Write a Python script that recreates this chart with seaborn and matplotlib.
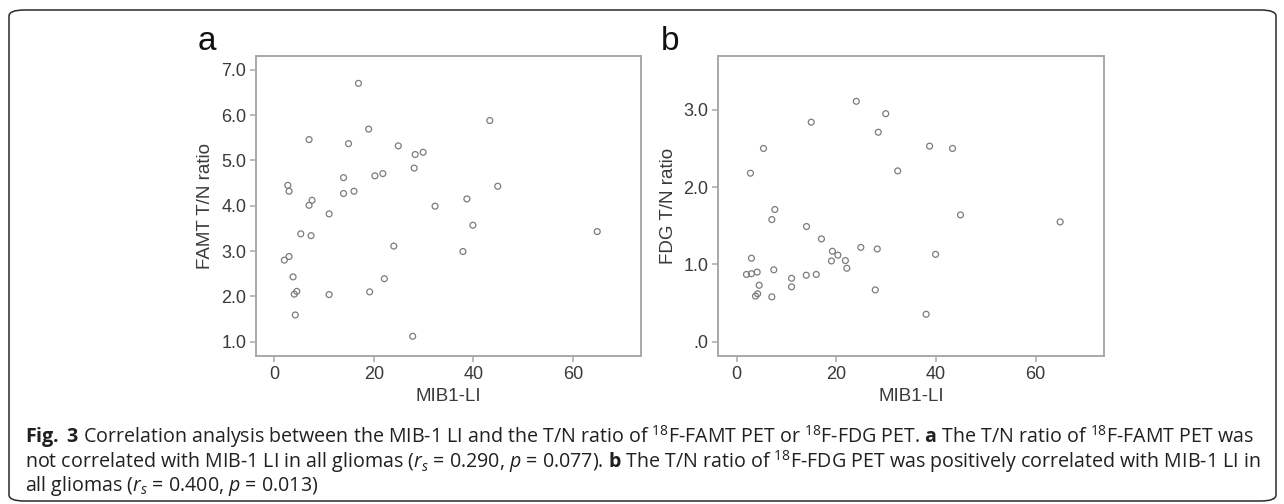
import matplotlib
matplotlib.use("Agg")
import matplotlib.pyplot as plt
import seaborn as sns
import pandas as pd
from matplotlib.patches import FancyBboxPatch

# panel a: MIB1-LI vs FAMT T/N ratio
famt_mib = [16.9, 43.3, 18.95, 6.97, 14.9, 24.9, 29.9, 28.3, 28.1, 13.9,
            20.2, 21.8, 2.7, 2.95, 44.9, 13.9, 16.0, 7.57, 6.97, 38.7,
            32.3, 11.0, 39.9, 5.3, 7.37, 24.0, 37.9, 2.95, 2.0, 3.75,
            22.1, 4.5, 4.0, 11.0, 19.15, 4.2, 27.8, 64.9]
famt_tn = [6.70, 5.88, 5.69, 5.46, 5.37, 5.32, 5.18, 5.13, 4.83, 4.62,
           4.66, 4.71, 4.45, 4.32, 4.43, 4.27, 4.32, 4.12, 4.01, 4.15,
           3.99, 3.82, 3.57, 3.38, 3.34, 3.11, 2.99, 2.88, 2.80, 2.43,
           2.39, 2.11, 2.05, 2.04, 2.10, 1.59, 1.12, 3.43]

# panel b: MIB1-LI vs FDG T/N ratio
fdg_mib = [24.0, 29.9, 14.95, 28.4, 5.37, 38.7, 43.3, 2.75, 32.3, 7.65,
           7.04, 44.9, 14.0, 17.0, 19.2, 20.3, 24.9, 28.2, 39.9, 2.95,
           19.0, 21.8, 22.1, 7.44, 1.95, 2.95, 4.1, 15.96, 13.95, 11.0,
           11.0, 4.5, 4.2, 3.76, 7.04, 27.8, 38.0, 64.9]
fdg_tn = [3.11, 2.95, 2.84, 2.71, 2.50, 2.53, 2.50, 2.18, 2.21, 1.71,
          1.58, 1.64, 1.49, 1.33, 1.17, 1.12, 1.22, 1.20, 1.13, 1.08,
          1.045, 1.05, 0.95, 0.93, 0.87, 0.88, 0.90, 0.87, 0.86, 0.82,
          0.71, 0.73, 0.62, 0.59, 0.58, 0.67, 0.355, 1.55]

x_ticks = [0, 20, 40, 60]
a_yticks = [1, 2, 3, 4, 5, 6, 7]
a_ylabels = ["1.0", "2.0", "3.0", "4.0", "5.0", "6.0", "7.0"]
b_yticks = [0, 1, 2, 3]
b_ylabels = [".0", "1.0", "2.0", "3.0"]

caption_lines = [
    r"$\mathbf{Fig.}$ $\mathbf{3}$ Correlation analysis between the MIB-1 LI and the T/N ratio of $^{18}$F-FAMT PET or $^{18}$F-FDG PET. $\mathbf{a}$ The T/N ratio of $^{18}$F-FAMT PET was",
    r"not correlated with MIB-1 LI in all gliomas ($r_s$ = 0.290, $p$ = 0.077). $\mathbf{b}$ The T/N ratio of $^{18}$F-FDG PET was positively correlated with MIB-1 LI in",
    r"all gliomas ($r_s$ = 0.400, $p$ = 0.013)",
]

sns.set_style("white")
plt.rcParams["font.family"] = ["Liberation Sans", "DejaVu Sans"]
plt.rcParams["mathtext.fontset"] = "custom"
plt.rcParams["mathtext.rm"] = "Open Sans"
plt.rcParams["mathtext.it"] = "Open Sans:italic"
plt.rcParams["mathtext.bf"] = "Open Sans:bold"

W, H = 1284, 504
fig = plt.figure(figsize=(12.84, 5.04), dpi=100)

spine_col = "#a8a8a8"
text_col = "#3a3a3a"
point_col = "#7c7c7c"


def style_panel(ax, ylabel, yticks, ylabels, ylim):
    ax.set_xlim(-3.7, 73.7)
    ax.set_ylim(*ylim)
    ax.set_xticks(x_ticks)
    ax.set_xticklabels([str(t) for t in x_ticks])
    ax.set_yticks(yticks)
    ax.set_yticklabels(ylabels)
    for s in ax.spines.values():
        s.set_color(spine_col)
        s.set_linewidth(1.4)
    ax.tick_params(axis="both", length=4, width=1.1, color=spine_col,
                   labelsize=13, labelcolor=text_col, pad=3,
                   left=True, bottom=True)
    ax.set_xlabel("MIB1-LI", fontsize=13.5, color=text_col, labelpad=4)
    ax.set_ylabel(ylabel, fontsize=13.5, color=text_col, labelpad=5)


ax_a = fig.add_axes([256 / W, 1 - 356 / H, (641 - 256) / W, (356 - 55.7) / H])
ax_b = fig.add_axes([718.3 / W, 1 - 356 / H, (1104 - 718.3) / W, (356 - 55.7) / H])

df_a = pd.DataFrame({"mib": famt_mib, "tn": famt_tn})
df_b = pd.DataFrame({"mib": fdg_mib, "tn": fdg_tn})

for ax, df in [(ax_a, df_a), (ax_b, df_b)]:
    sns.scatterplot(data=df, x="mib", y="tn", ax=ax, marker="o", s=18,
                    facecolor="none", edgecolor=point_col, linewidth=0.9)

style_panel(ax_a, "FAMT T/N ratio", a_yticks, a_ylabels, (0.685, 7.31))
style_panel(ax_b, "FDG T/N ratio", b_yticks, b_ylabels, (-0.185, 3.70))

fig.text(198 / W, 1 - 50 / H, "a", fontsize=24, va="baseline", ha="left", color="#111111")
fig.text(661 / W, 1 - 50 / H, "b", fontsize=24, va="baseline", ha="left", color="#111111")

# caption
baselines = [443, 467.5, 491]
for line, yb in zip(caption_lines, baselines):
    fig.text(25 / W, 1 - yb / H, line, fontsize=14.15, family="Open Sans",
             va="baseline", ha="left", color="#231f20")

# rounded frame
frame = FancyBboxPatch((9 / W, 3 / H), (1276 - 9) / W, (494 - 3) / H,
                       boxstyle="round,pad=0,rounding_size=0.012",
                       transform=fig.transFigure, fill=False,
                       edgecolor="#2a2a2a", linewidth=1.1)
fig.add_artist(frame)

fig.savefig("out.png", dpi=100)
